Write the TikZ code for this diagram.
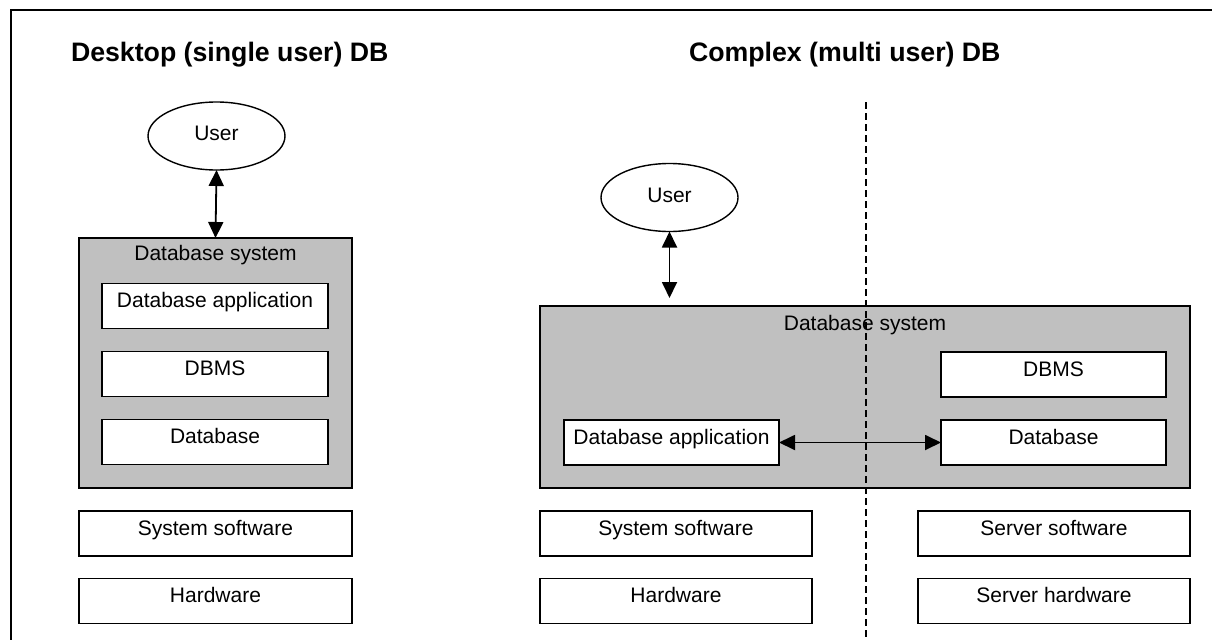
\documentclass[tikz,border=0pt]{standalone}
\usepackage{fontspec}
\setmainfont{Liberation Sans}
\usetikzlibrary{arrows.meta,shapes.geometric}
\definecolor{sysgray}{HTML}{C0C0C0}
\begin{document}
\begin{tikzpicture}[x=1pt,y=-1pt,
  every node/.style={font=\fontsize{21}{25}\selectfont, inner sep=0pt, outer sep=0pt},
  heading/.style={font=\bfseries\fontsize{26.7}{32}\selectfont, anchor=base west},
  sysbox/.style={draw, line width=1.7pt, fill=sysgray, rectangle},
  layerbox/.style={draw, line width=1.7pt, fill=white, rectangle, minimum height=45pt,
    text height=15pt, text depth=12pt},
  userell/.style={draw, line width=1.4pt, ellipse, minimum width=137pt, minimum height=68pt,
    text height=15pt, text depth=6pt},
  biarrow/.style={line width=1.8pt, {Triangle[length=16pt,width=15pt]}-{Triangle[length=16pt,width=15pt]}},
  divider/.style={line width=1.4pt, dash pattern=on 7pt off 4pt}
]
\useasboundingbox (0,0) rectangle (1212,640);

% frame edges
\draw[line width=2pt] (1212,10) -- (11,10) -- (11,640);

% headings
\node[heading] (ttlA) at (71,61) {Desktop (single user) DB};
\node[heading] (ttlB) at (689,61) {Complex (multi user) DB};

% ---- desktop (single user) stack ----
\node[userell] (userA) at (216.5,136) {User};
\node[sysbox, minimum width=273pt, minimum height=250pt] (sysA) at (215.5,363) {};
\node[anchor=base] (sysAlbl) at (215.5,260.5) {Database system};
\node[layerbox, minimum width=226pt] (appA) at (215,306) {Database application};
\node[layerbox, minimum width=226pt] (dbmsA) at (215,374) {DBMS};
\node[layerbox, minimum width=226pt] (dbA) at (215,442) {Database};
\node[layerbox, minimum width=273pt] (swA) at (215.5,533.5) {System software};
\node[layerbox, minimum width=273pt] (hwA) at (215.5,601) {Hardware};
\draw[biarrow] (userA.south) -- (sysA.north);

% ---- complex (multi user) stack ----
\node[userell] (userB) at (669.5,197.5) {User};
\node[sysbox, minimum width=650pt, minimum height=182pt] (sysB) at (865,397) {};
\node[anchor=base] (sysBlbl) at (865,330.5) {Database system};
\node[layerbox, minimum width=215pt] (appB) at (671.5,442.5) {Database application};
\node[layerbox, minimum width=225pt] (dbmsB) at (1053.5,374.5) {DBMS};
\node[layerbox, minimum width=225pt] (dbB) at (1053.5,442.5) {Database};
\node[layerbox, minimum width=272pt] (swB) at (676,533.5) {System software};
\node[layerbox, minimum width=272pt] (hwB) at (676,601) {Hardware};
\node[layerbox, minimum width=272pt] (srvswB) at (1054,533.5) {Server software};
\node[layerbox, minimum width=272pt] (srvhwB) at (1054,601) {Server hardware};
\draw[biarrow, shorten >=8pt] (userB.south) -- (userB.south |- sysB.north);
\draw[biarrow] (appB.east) -- (dbB.west);

% client / server divider
\coordinate (divTop) at (866,102);
\coordinate (divBot) at (866,640);
\draw[divider] (divTop) -- (divBot);
\end{tikzpicture}
\end{document}
